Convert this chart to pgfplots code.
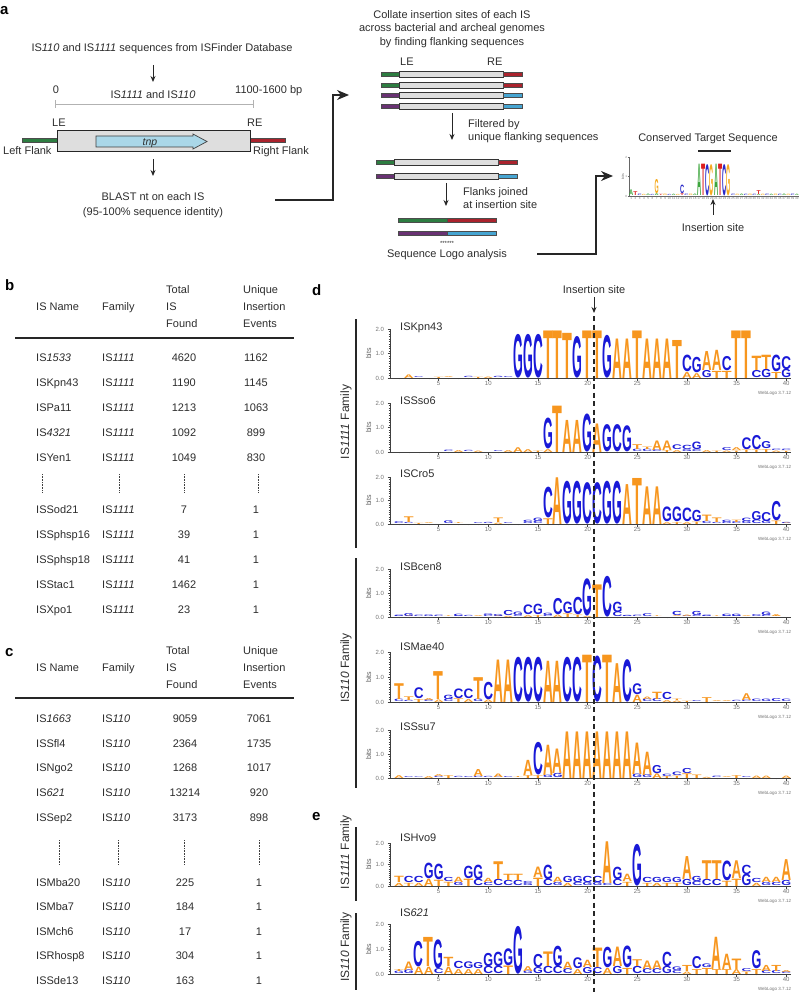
\documentclass[border=0pt]{standalone}
\usepackage{fontspec}
\setmainfont{Liberation Sans}
\usepackage{graphicx}
\usepackage{pgfplots}
\pgfplotsset{compat=1.18}
\usepackage{pgfplotstable}
\usetikzlibrary{arrows.meta}
\definecolor{lo}{RGB}{247,150,30}
\definecolor{lb}{RGB}{25,25,215}
\colorlet{dA}{lo}\colorlet{dT}{lo}\colorlet{dC}{lb}\colorlet{dG}{lb}
\definecolor{kA}{RGB}{60,165,60}
\definecolor{kC}{RGB}{40,40,200}
\definecolor{kG}{RGB}{245,170,30}
\definecolor{kT}{RGB}{220,30,30}
\definecolor{fgreen}{RGB}{45,125,65}
\definecolor{fred}{RGB}{170,35,45}
\definecolor{fpurple}{RGB}{105,50,115}
\definecolor{fblue}{RGB}{70,165,210}
\definecolor{boxgray}{RGB}{222,222,222}
\definecolor{tnpblue}{RGB}{170,215,232}
\definecolor{txt}{RGB}{45,45,45}
\newdimen\ppbd
\newdimen\lwd
\def\pal{d}
\def\mkletter#1/#2\relax{\resizebox*{\lwd}{#2\ppbd}{\textbf{\textcolor{\pal#1}{#1}}}}

% columns: position, base of the letter (bits), letter/height (bits)
\pgfplotstableread{
p b m
1 0 A/0.3
2 0 T/0.2
3 0 C/0.08
4 0 G/0.06
5 0 A/0.08
6 0 C/0.06
7 0 A/0.1
7 0.1 G/0.75
8 0 T/0.06
9 0 G/0.08
10 0 C/0.06
11 0 A/0.07
12 0 G/0.06
13 0 T/0.1
13 0.1 C/0.45
14 0 C/0.08
15 0 G/0.08
16 0 A/0.08
17 0 A/1.65
18 0 T/1.65
19 0 C/1.65
20 0 G/1.65
21 0 A/1.65
22 0 T/1.65
23 0 C/1.65
24 0 G/1.65
25 0 C/0.08
26 0 G/0.07
27 0 A/0.08
28 0 C/0.07
29 0 G/0.08
30 0 C/0.07
31 0 A/0.06
31 0.06 T/0.2
32 0 G/0.07
33 0 C/0.08
34 0 A/0.07
35 0 G/0.08
36 0 C/0.07
37 0 A/0.08
38 0 G/0.07
39 0 C/0.08
40 0 A/0.07
}\tSmall

\pgfplotstableread{
p b m
2 0 A/0.15
3 0 C/0.04
5 0 T/0.05
6 0 A/0.04
8 0 C/0.05
9 0 T/0.05
10 0 A/0.06
11 0 G/0.05
12 0 C/0.04
13 0 G/1.84
14 0 G/1.84
15 0 C/1.84
16 0 T/2.0
17 0 T/2.0
18 0 T/1.9
19 0 G/1.75
20 0 T/2.0
21 0 T/2.0
22 0 G/1.8
23 0 A/1.66
24 0 A/1.66
25 0 T/2.0
26 0 A/1.66
27 0 A/1.66
28 0 A/1.66
29 0 T/1.6
30 0 A/0.25
30 0.25 C/0.7
31 0 A/0.2
31 0.2 G/0.65
32 0 G/0.3
32 0.3 A/0.8
33 0 T/0.3
33 0.3 A/0.85
34 0 T/0.3
34 0.3 C/0.6
35 0 T/2.0
36 0 T/2.0
37 0 C/0.3
37 0.3 T/0.6
38 0 G/0.35
38 0.35 T/0.6
39 0 T/0.25
39 0.25 G/0.7
40 0 G/0.35
40 0.35 C/0.55
}\tKpn

\pgfplotstableread{
p b m
6 0 C/0.06
7 0 A/0.08
8 0 C/0.05
9 0 A/0.06
11 0 C/0.04
12 0 A/0.08
13 0 A/0.2
14 0 A/0.12
15 0 T/0.06
16 0 A/0.12
16 0.12 G/1.3
17 0 T/1.95
18 0 A/1.35
19 0 A/1.35
20 0 G/1.6
21 0 A/1.2
22 0 G/1.15
23 0 C/1.15
24 0 G/1.1
25 0 C/0.1
25 0.1 T/0.2
26 0 C/0.1
26 0.1 T/0.1
27 0 C/0.08
27 0.08 A/0.4
28 0 T/0.08
28 0.08 A/0.4
29 0 A/0.08
29 0.08 C/0.2
30 0 G/0.08
30 0.08 C/0.18
31 0 C/0.08
31 0.08 G/0.32
32 0 A/0.08
33 0 T/0.06
34 0 A/0.06
34 0.06 C/0.12
35 0 T/0.06
35 0.06 A/0.12
36 0 T/0.1
36 0.1 C/0.5
37 0 T/0.1
37 0.1 C/0.6
38 0 T/0.12
38 0.12 G/0.3
39 0 A/0.06
39 0.06 C/0.06
40 0 T/0.05
40 0.05 C/0.06
}\tSso

\pgfplotstableread{
p b m
1 0 C/0.08
2 0 C/0.05
2 0.05 T/0.25
3 0 T/0.05
4 0 A/0.04
6 0 G/0.12
7 0 T/0.04
9 0 C/0.04
10 0 G/0.05
11 0 A/0.06
11 0.06 T/0.2
12 0 C/0.04
14 0 G/0.05
14 0.05 C/0.1
15 0 C/0.1
15 0.1 G/0.15
16 0 T/0.25
16 0.25 C/1.35
17 0 A/2.05
18 0 G/1.88
19 0 G/1.88
20 0 C/1.82
21 0 C/1.82
22 0 G/1.88
23 0 G/1.88
24 0 A/1.75
25 0 T/2.02
26 0 A/1.65
27 0 A/1.65
28 0 A/0.08
28 0.08 G/0.65
29 0 T/0.08
29 0.08 G/0.65
30 0 A/0.08
30 0.08 C/0.6
31 0 T/0.1
31 0.1 G/0.5
32 0 C/0.1
32 0.1 T/0.28
33 0 C/0.05
33 0.05 T/0.2
34 0 G/0.06
34 0.06 C/0.1
35 0 C/0.08
35 0.08 T/0.1
36 0 G/0.1
36 0.1 C/0.15
37 0 C/0.15
37 0.15 G/0.4
38 0 G/0.12
38 0.12 C/0.4
39 0 T/0.15
39 0.15 C/0.85
40 0 A/0.04
40 0.04 C/0.05
}\tCro

\pgfplotstableread{
p b m
1 0 G/0.04
1 0.04 C/0.06
2 0 A/0.04
2 0.04 G/0.13
3 0 C/0.06
4 0 G/0.07
5 0 C/0.06
6 0 T/0.03
7 0 G/0.04
7 0.04 C/0.1
8 0 C/0.05
9 0 A/0.04
10 0 C/0.05
10 0.05 G/0.07
11 0 A/0.04
11 0.04 G/0.09
12 0 A/0.05
12 0.05 C/0.22
13 0 C/0.04
13 0.04 G/0.15
14 0 A/0.08
14 0.08 C/0.42
15 0 T/0.08
15 0.08 G/0.45
16 0 C/0.06
16 0.06 G/0.1
17 0 A/0.1
17 0.1 C/0.7
18 0 T/0.15
18 0.15 G/0.5
19 0 T/0.1
19 0.1 C/0.75
20 0 A/0.05
20 0.05 G/1.6
21 0 T/1.4
22 0 C/1.75
23 0 C/0.2
23 0.2 G/0.45
24 0 G/0.04
24 0.04 C/0.05
25 0 C/0.06
26 0 C/0.12
27 0 T/0.03
29 0 A/0.04
29 0.04 C/0.18
30 0 G/0.04
30 0.04 A/0.06
31 0 C/0.04
31 0.04 G/0.18
32 0 G/0.04
32 0.04 C/0.06
33 0 T/0.03
34 0 G/0.04
34 0.04 C/0.1
35 0 C/0.04
35 0.04 G/0.1
36 0 A/0.04
37 0 G/0.04
37 0.04 C/0.04
38 0 C/0.06
38 0.06 G/0.15
39 0 T/0.04
39 0.04 A/0.08
}\tBcen

\pgfplotstableread{
p b m
1 0 C/0.1
1 0.1 T/0.65
2 0 C/0.05
2 0.05 T/0.15
3 0 T/0.12
3 0.12 C/0.45
4 0 C/0.08
4 0.08 A/0.08
5 0 A/0.1
5 0.1 T/1.15
6 0 C/0.1
6 0.1 G/0.18
7 0 T/0.15
7 0.15 C/0.4
8 0 A/0.12
8 0.12 C/0.4
9 0 G/0.1
9 0.1 T/0.9
10 0 A/0.1
10 0.1 C/0.72
11 0 A/1.75
12 0 A/1.75
13 0 C/1.85
14 0 C/1.85
15 0 C/1.85
16 0 A/1.7
17 0 A/1.7
18 0 C/1.85
19 0 C/1.85
20 0 T/1.95
21 0 C/1.9
22 0 T/1.95
23 0 A/1.6
24 0 C/1.75
25 0 A/0.3
25 0.3 G/0.45
26 0 C/0.1
26 0.1 A/0.1
27 0 C/0.12
27 0.12 T/0.3
28 0 A/0.08
28 0.08 C/0.3
29 0 A/0.06
29 0.06 T/0.06
30 0 T/0.05
31 0 C/0.04
32 0 T/0.2
33 0 A/0.04
34 0 A/0.04
35 0 C/0.05
36 0 C/0.06
36 0.06 A/0.28
37 0 C/0.1
38 0 G/0.1
39 0 C/0.12
40 0 C/0.1
}\tMae

\pgfplotstableread{
p b m
1 0 A/0.12
2 0 C/0.04
3 0 C/0.03
4 0 A/0.08
5 0 C/0.05
5 0.05 A/0.08
6 0 T/0.12
7 0 C/0.05
8 0 C/0.04
9 0 C/0.05
9 0.05 A/0.3
10 0 C/0.05
11 0 C/0.03
11 0.03 A/0.15
12 0 C/0.04
13 0 T/0.04
14 0 T/0.12
14 0.12 A/0.65
15 0 T/0.12
15 0.12 C/1.4
16 0 G/0.1
16 0.1 A/1.3
17 0 G/0.18
17 0.18 A/1.05
18 0 A/2.0
19 0 A/2.0
20 0 A/2.0
21 0 A/2.0
22 0 A/2.0
23 0 A/2.0
24 0 A/2.0
25 0 G/0.15
25 0.15 A/1.35
26 0 G/0.12
26 0.12 A/1.0
27 0 A/0.2
27 0.2 G/0.35
28 0 T/0.08
28 0.08 C/0.1
29 0 T/0.1
29 0.1 C/0.15
30 0 T/0.2
30 0.2 C/0.22
31 0 T/0.15
32 0 A/0.05
33 0 C/0.06
34 0 A/0.04
35 0 T/0.12
36 0 C/0.04
37 0 A/0.1
38 0 A/0.1
40 0 A/0.1
}\tSsu

\pgfplotstableread{
p b m
1 0 A/0.15
1 0.15 T/0.3
2 0 T/0.15
2 0.15 C/0.3
3 0 A/0.15
3 0.15 C/0.3
4 0 A/0.35
4 0.35 G/0.75
5 0 T/0.3
5 0.3 G/0.75
6 0 T/0.2
6 0.2 C/0.2
7 0 G/0.15
7 0.15 A/0.25
8 0 T/0.35
8 0.35 G/0.6
9 0 C/0.3
9 0.3 G/0.7
10 0 C/0.15
10 0.15 A/0.2
11 0 C/0.3
11 0.3 T/0.85
12 0 C/0.25
12 0.25 T/0.3
13 0 C/0.25
13 0.25 T/0.3
14 0 G/0.1
14 0.1 C/0.1
15 0 T/0.4
15 0.4 A/0.5
16 0 C/0.3
16 0.3 G/0.7
17 0 G/0.15
17 0.15 A/0.25
18 0 A/0.15
18 0.15 G/0.3
19 0 C/0.15
19 0.15 G/0.3
20 0 G/0.15
20 0.15 C/0.3
21 0 G/0.15
21 0.15 C/0.3
22 0 C/0.1
22 0.1 A/2.0
23 0 C/0.3
23 0.3 G/0.6
24 0 T/0.2
24 0.2 A/0.35
25 0 G/2.0
26 0 T/0.15
26 0.15 C/0.25
27 0 A/0.15
27 0.15 G/0.25
28 0 T/0.15
28 0.15 G/0.25
29 0 T/0.15
29 0.15 G/0.25
30 0 G/0.3
30 0.3 A/1.1
31 0 C/0.2
31 0.2 G/0.25
32 0 C/0.3
32 0.3 T/0.9
33 0 C/0.3
33 0.3 T/0.9
34 0 T/0.25
34 0.25 C/0.95
35 0 T/0.35
35 0.35 A/0.85
36 0 G/0.55
36 0.55 C/0.45
37 0 A/0.15
37 0.15 C/0.2
38 0 G/0.15
38 0.15 A/0.25
39 0 C/0.15
39 0.15 A/0.25
40 0 G/0.25
40 0.25 A/1.0
}\tHvo

\pgfplotstableread{
p b m
1 0 G/0.1
1 0.1 T/0.08
2 0 G/0.15
2 0.15 A/0.35
3 0 A/0.3
3 0.3 C/1.05
4 0 A/0.3
4 0.3 T/1.2
5 0 C/0.2
5 0.2 G/1.2
6 0 A/0.3
6 0.3 T/0.38
7 0 A/0.2
7 0.2 C/0.3
8 0 A/0.2
8 0.2 G/0.28
9 0 A/0.2
9 0.2 G/0.25
10 0 C/0.3
10 0.3 G/0.55
11 0 C/0.3
11 0.3 G/0.6
12 0 T/0.35
12 0.35 G/0.7
13 0 G/1.97
14 0 G/0.1
14 0.1 A/0.2
15 0 G/0.25
15 0.25 C/0.55
16 0 C/0.3
16 0.3 T/0.6
17 0 C/0.3
17 0.3 G/0.85
18 0 C/0.2
18 0.2 A/0.3
19 0 A/0.2
19 0.2 G/0.45
20 0 G/0.25
20 0.25 A/0.3
21 0 C/0.25
21 0.25 T/0.8
22 0 A/0.25
22 0.25 G/0.85
23 0 G/0.3
23 0.3 A/0.8
24 0 T/0.25
24 0.25 G/0.9
25 0 C/0.3
25 0.3 T/0.28
26 0 C/0.2
26 0.2 A/0.35
27 0 C/0.2
27 0.2 A/0.35
28 0 G/0.3
28 0.3 C/0.6
29 0 C/0.12
29 0.12 G/0.15
30 0 A/0.1
30 0.1 T/0.25
31 0 T/0.2
31 0.2 C/0.5
32 0 T/0.25
32 0.25 G/0.15
33 0 T/0.2
33 0.2 A/1.33
34 0 T/0.2
34 0.2 A/0.63
35 0 A/0.2
35 0.2 T/0.43
36 0 T/0.1
36 0.1 C/0.12
37 0 T/0.2
37 0.2 G/0.75
38 0 C/0.12
38 0.12 A/0.25
39 0 C/0.12
39 0.12 T/0.25
40 0 C/0.08
40 0.08 A/0.08
}\tSix

\pgfplotsset{
  logo/.style={
    scale only axis, clip=false,
    xmin=0.1, xmax=40.5, ymin=0, ymax=2,
    width=401.2pt,
    axis x line*=bottom, axis y line*=left,
    axis line style={black!75, line width=0.6pt},
    xtick={5,10,...,40}, minor xtick={1,2,...,40},
    ytick={0,1,2}, minor ytick={0.1,0.2,...,1.9},
    tick align=outside, major tick length=2.5pt, minor tick length=1.3pt,
    tick style={black!75, line width=0.4pt},
    tick label style={font=\fontsize{6}{6}\selectfont, text=black!55},
    yticklabel style={/pgf/number format/fixed, /pgf/number format/fixed zerofill, /pgf/number format/precision=1},
    /pgf/number format/assume math mode=true,
    xticklabel style={inner sep=1pt},
    ylabel=bits, ylabel style={font=\fontsize{7}{7}\selectfont, text=black!65, inner sep=1pt},
    title style={anchor=west, font=\fontsize{11}{12}\selectfont, text=txt, inner sep=0pt},
  },
  seqletters/.style={only marks, mark=none, point meta=explicit symbolic,
    nodes near coords={\expandafter\mkletter\pgfplotspointmeta\relax},
    nodes near coords style={anchor=south, inner sep=0pt, outer sep=0pt},
  },
}

\newcommand{\logo}[6]{%
  \ppbd=#2pt\relax \ppbd=0.97\ppbd
  \begin{axis}[logo, at={(390pt,-#1pt)}, anchor=south west, height=#3pt,
     title={#4}, title style={at={(axis description cs:0.025,#5)}}]
    \addplot[seqletters] table[x=p,y=b,meta=m]{#6};
    \node[anchor=east, font=\fontsize{4.5}{5}\selectfont, text=black!55, inner sep=0pt, yshift=-15pt] at (axis description cs:1,0) {WebLogo 3.7.12};
  \end{axis}}

\newcommand{\isbar}[7]{%
  \filldraw[fill=#6, draw=black!70, line width=0.3pt] (#2,{#1-2}) rectangle (#3,{#1+2});
  \filldraw[fill=boxgray, draw=black!80, line width=0.5pt] (#3,{#1-3}) rectangle (#4,{#1+3});
  \filldraw[fill=#7, draw=black!70, line width=0.3pt] (#4,{#1-2}) rectangle (#5,{#1+2});}

\begin{document}
\begin{tikzpicture}
% small logo in panel a
\ppbd=19pt \lwd=4.1pt \def\pal{k}
\begin{axis}[scale only axis, clip=false, at={(629pt,-196pt)}, anchor=south west,
  width=170pt, height=39pt, xmin=0.5, xmax=40.5, ymin=0, ymax=2,
  axis x line*=bottom, axis y line*=left, axis line style={black!60, line width=0.4pt},
  xtick={1,2,...,40}, ytick={0,1,2},
  tick align=outside, major tick length=1.2pt,
  tick style={black!60, line width=0.3pt},
  tick label style={font=\fontsize{3}{3}\selectfont, text=black!55, inner sep=0.5pt},
  /pgf/number format/assume math mode=true,
  ylabel=bits, ylabel style={font=\fontsize{3.5}{4}\selectfont, text=black!60, inner sep=0.5pt}]
  \addplot[seqletters] table[x=p,y=b,meta=m]{\tSmall};
\end{axis}
\def\pal{d}\lwd=9.8pt
\logo{378}{24.5}{49}{ISKpn43}{0.9}{\tKpn}
\logo{452}{24.5}{49}{ISSso6}{0.92}{\tSso}
\logo{524}{23.5}{47}{ISCro5}{0.94}{\tCro}
\logo{617}{24}{48}{ISBcen8}{0.92}{\tBcen}
\logo{702}{25}{50}{ISMae40}{0.98}{\tMae}
\logo{778}{24}{48}{ISSsu7}{0.94}{\tSsu}
\logo{886}{21.5}{43}{ISHvo9}{0.98}{\tHvo}
\logo{974}{25}{50}{IS\textit{621}}{1.1}{\tSix}

\begin{scope}[x=1pt,y=-1pt, every node/.style={font=\fontsize{11}{13}\selectfont, text=txt, inner sep=0pt}]
% panel letters
\node[anchor=base west, font=\fontsize{15}{15}\selectfont\bfseries, text=black] at (0,15) {a};
\node[anchor=base west, font=\fontsize{15}{15}\selectfont\bfseries, text=black] at (5,290) {b};
\node[anchor=base west, font=\fontsize{15}{15}\selectfont\bfseries, text=black] at (5,656) {c};
\node[anchor=base west, font=\fontsize{15}{15}\selectfont\bfseries, text=black] at (312,295) {d};
\node[anchor=base west, font=\fontsize{15}{15}\selectfont\bfseries, text=black] at (312,820) {e};

% ---- panel a, left
\node[anchor=base] at (162,52) {IS\textit{110} and IS\textit{1111} sequences from ISFinder Database};
\draw[-{Stealth[length=6pt,width=5pt]}, line width=0.9pt, black!85] (153,65) -- (153,82);
\node[anchor=base] at (56,94) {0};
\node[anchor=base] at (153,99) {IS\textit{1111} and IS\textit{110}};
\node[anchor=base west] at (235,94) {1100-1600 bp};
\draw[black!30, line width=0.9pt] (55,104) -- (253,104) (55,100) -- (55,108) (253,100) -- (253,108);
\node[anchor=base west] at (52,127) {LE};
\node[anchor=base west] at (247,127) {RE};
\filldraw[fill=fgreen, draw=black!70, line width=0.3pt] (22,138) rectangle (57,142);
\filldraw[fill=fred, draw=black!70, line width=0.3pt] (250,138) rectangle (285,142);
\filldraw[fill=boxgray, draw=black!85, line width=0.8pt] (57,130) rectangle (250,151);
\filldraw[fill=tnpblue, draw=black!75, line width=0.7pt] (96,136) -- (193,136) -- (193,134) -- (207,141.5) -- (193,149) -- (193,147) -- (96,147) -- cycle;
\node[anchor=base, font=\fontsize{10.5}{12}\selectfont\itshape] at (150,145.5) {tnp};
\node[anchor=base west] at (3,155) {Left Flank};
\node[anchor=base west] at (253,155) {Right Flank};
\draw[-{Stealth[length=6pt,width=5pt]}, line width=0.9pt, black!85] (153,159) -- (153,176);
\node[anchor=base] at (153,201) {BLAST nt on each IS};
\node[anchor=base] at (153,215) {(95-100\% sequence identity)};
\draw[line width=1.1pt, black!85, -{Stealth[length=12pt,width=10pt]}] (275,200) -| (333,95) -- (349,95);

% ---- panel a, middle
\node[anchor=base] at (452,19) {Collate insertion sites of each IS};
\node[anchor=base] at (452,32) {across bacterial and archeal genomes};
\node[anchor=base] at (452,46) {by finding flanking sequences};
\node[anchor=base west] at (400,66) {LE};
\node[anchor=base west] at (487,66) {RE};
\isbar{74}{381}{399}{503}{522}{fgreen}{fred}
\isbar{85}{381}{399}{503}{522}{fgreen}{fred}
\isbar{95}{381}{399}{503}{522}{fpurple}{fblue}
\isbar{106}{381}{399}{503}{522}{fpurple}{fblue}
\draw[-{Stealth[length=6pt,width=5pt]}, line width=0.9pt, black!85] (452,113) -- (452,140);
\node[anchor=base west] at (468,128) {Filtered by};
\node[anchor=base west] at (468,141) {unique flanking sequences};
\isbar{162}{376}{394}{498}{517}{fgreen}{fred}
\isbar{176}{376}{394}{498}{517}{fpurple}{fblue}
\draw[-{Stealth[length=6pt,width=5pt]}, line width=0.9pt, black!85] (446,183) -- (446,206);
\node[anchor=base west] at (463,196) {Flanks joined};
\node[anchor=base west] at (463,209) {at insertion site};
\filldraw[fill=fgreen, draw=black!70, line width=0.3pt] (398,218) rectangle (447,222);
\filldraw[fill=fred, draw=black!70, line width=0.3pt] (447,218) rectangle (496,222);
\filldraw[fill=fpurple, draw=black!70, line width=0.3pt] (398,231) rectangle (447,235);
\filldraw[fill=fblue, draw=black!70, line width=0.3pt] (447,231) rectangle (496,235);
\node[anchor=base, font=\fontsize{6}{6}\selectfont] at (447,245.5) {******};
\node[anchor=base] at (447,257) {Sequence Logo analysis};
\draw[line width=1.1pt, black!85, -{Stealth[length=12pt,width=10pt]}] (537,254) -| (596,176) -- (613,176);

% ---- panel a, right
\node[anchor=base] at (708,142) {Conserved Target Sequence};
\draw[line width=1.5pt, black!85] (698,151) -- (731,151);
\draw[-{Stealth[length=6pt,width=5pt]}, line width=0.9pt, black!85] (713,215) -- (713,199);
\node[anchor=base] at (713,232) {Insertion site};

% ---- table b
\node[anchor=base west] at (36,310) {IS Name};
\node[anchor=base west] at (102,310) {Family};
\node[anchor=base west] at (166,293) {Total};
\node[anchor=base west] at (166,310) {IS};
\node[anchor=base west] at (166,327) {Found};
\node[anchor=base west] at (243,293) {Unique};
\node[anchor=base west] at (243,310) {Insertion};
\node[anchor=base west] at (243,327) {Events};
\draw[line width=1.5pt, black!85] (15,338) -- (294,338);
\foreach \y/\n/\t/\u in {361/IS\textit{1533}/4620/1162, 386/ISKpn43/1190/1145, 411/ISPa11/1213/1063, 436/IS\textit{4321}/1092/899, 461/ISYen1/1049/830, 513/ISSod21/7/1, 538/ISSphsp16/39/1, 563/ISSphsp18/41/1, 588/ISStac1/1462/1, 613/ISXpo1/23/1}{
  \node[anchor=base west] at (36,\y) {\n};
  \node[anchor=base west] at (102,\y) {IS\textit{1111}};
  \node[anchor=base] at (184,\y) {\t};
  \node[anchor=base] at (256,\y) {\u};
}
\foreach \x in {42,119,184,258}{\draw[black!75, line width=1pt, dash pattern=on 0.8pt off 0.8pt] (\x,474) -- (\x,493);}

% ---- table c
\node[anchor=base west] at (36,671) {IS Name};
\node[anchor=base west] at (102,671) {Family};
\node[anchor=base west] at (166,654) {Total};
\node[anchor=base west] at (166,671) {IS};
\node[anchor=base west] at (166,688) {Found};
\node[anchor=base west] at (243,654) {Unique};
\node[anchor=base west] at (243,671) {Insertion};
\node[anchor=base west] at (243,688) {Events};
\draw[line width=1.5pt, black!85] (15,698) -- (294,698);
\foreach \y/\n/\t/\u in {722/IS\textit{1663}/9059/7061, 747/ISSfl4/2364/1735, 771/ISNgo2/1268/1017, 796/IS\textit{621}/13214/920, 821/ISSep2/3173/898, 886/ISMba20/225/1, 910/ISMba7/184/1, 935/ISMch6/17/1, 959/ISRhosp8/304/1, 984/ISSde13/163/1}{
  \node[anchor=base west] at (36,\y) {\n};
  \node[anchor=base west] at (102,\y) {IS\textit{110}};
  \node[anchor=base] at (185,\y) {\t};
  \node[anchor=base] at (259,\y) {\u};
}
\foreach \x in {59,118,184,259}{\draw[black!75, line width=1pt, dash pattern=on 0.8pt off 0.8pt] (\x,840) -- (\x,865);}

% ---- panels d, e decorations
\node[anchor=base] at (594,293) {Insertion site};
\draw[-{Stealth[length=6pt,width=5pt]}, line width=0.9pt, black!85] (594,297) -- (594,313);
\draw[black!85, line width=1.2pt] (356,319) -- (356,548) (356,558) -- (356,788) (356,827) -- (356,901) (356,913) -- (356,990);
\node[rotate=90, font=\fontsize{12}{13}\selectfont] at (346,422) {IS\textit{1111} Family};
\node[rotate=90, font=\fontsize{12}{13}\selectfont] at (346,668) {IS\textit{110} Family};
\node[rotate=90, font=\fontsize{12}{13}\selectfont] at (346,852) {IS\textit{1111} Family};
\node[rotate=90, font=\fontsize{12}{13}\selectfont] at (346,947) {IS\textit{110} Family};
\draw[black!85, line width=1.3pt, dash pattern=on 5pt off 3.5pt] (594,316) -- (594,992);
\end{scope}
\pgfresetboundingbox
\path[use as bounding box] (0pt,0pt) rectangle (799pt,-992pt);
\end{tikzpicture}
\end{document}
